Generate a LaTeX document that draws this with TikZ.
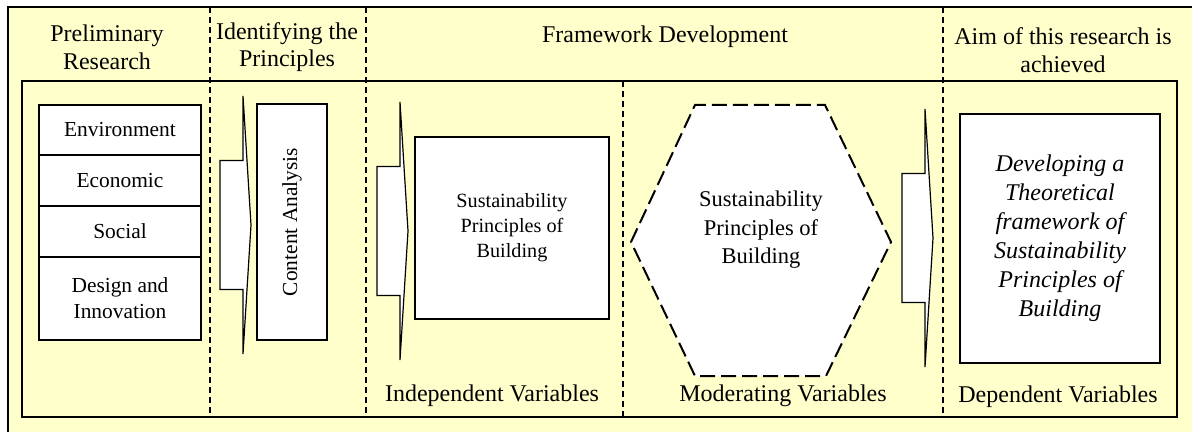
\documentclass[tikz,border=0pt]{standalone}
\usepackage{fontspec}
\setmainfont{Liberation Serif}
\usetikzlibrary{positioning}

\definecolor{paleyellow}{RGB}{255,255,204}

\tikzset{
  cell/.style={draw, line width=0.6pt, fill=white, outer sep=0pt, minimum width=81pt,
    align=center, font=\fontsize{10.7}{13}\selectfont},
  heading/.style={align=center, font=\fontsize{12}{13.8}\selectfont},
  phaseline/.style={dash pattern=on 3pt off 2pt, line width=0.6pt},
  flowarrow/.pic={
    \draw[line width=0.6pt, fill=white] (0,-64.5) -- (23,-64.5) -- (23,-129) -- (31,0)
      -- (23,129) -- (23,64.5) -- (0,64.5) -- cycle;
  }
}

\begin{document}
\begin{tikzpicture}[x=0.5pt, y=-0.5pt]
  \useasboundingbox (0,0) rectangle (1192,432);
  \fill[white] (0,0) rectangle (1192,432);
  \draw[line width=1pt, fill=paleyellow] (8,7) rectangle (1210,450);
  \draw[line width=0.8pt] (22,81) rectangle (1177,417);

  % phase borders
  \draw[phaseline] (210,7) -- (210,417);
  \draw[phaseline] (366,7) -- (366,417);
  \draw[phaseline] (943,7) -- (943,417);
  \draw[phaseline] (623,81) -- (623,417);

  % phase titles
  \node[heading] (prelim) at (107,47) {Preliminary\\Research};
  \node[heading] (ident) at (287,47) {Identifying the\\Principles};
  \node[heading] (frame) at (665,37) {Framework Development};
  \node[heading] (aim) at (1063,50) {Aim of this research is\\achieved};

  % pillars
  \node[cell, minimum height=25pt] (env) at (120,130) {Environment};
  \node[cell, minimum height=25.5pt, below=0pt of env] (eco) {Economic};
  \node[cell, minimum height=25.5pt, below=0pt of eco] (soc) {Social};
  \node[cell, minimum height=41.5pt, below=0pt of soc] (des) {Design and\\Innovation};

  \pic at (220,225) {flowarrow};
  \node[cell, rotate=90, minimum width=118pt, minimum height=35pt] (content) at (292,222) {Content Analysis};

  \pic at (377,231) {flowarrow};
  \node[cell, minimum width=97pt, minimum height=91pt, font=\fontsize{10.1}{12.5}\selectfont]
    (indep) at (512,228) {Sustainability\\Principles of\\Building};

  % moderating hexagon
  \draw[line width=1pt, dash pattern=on 7.5pt off 3pt, fill=white]
    (631,242) -- (695,105) -- (825,105) -- (891,242) -- (826,376) -- (695,376) -- cycle;
  \node[align=center, font=\fontsize{11.25}{14.2}\selectfont] (moder) at (761,230)
    {Sustainability\\Principles of\\Building};

  \pic at (902,238) {flowarrow};
  \node[cell, minimum width=100pt, minimum height=124.5pt, font=\fontsize{12}{14.5}\selectfont\itshape]
    (dep) at (1060,238.5) {Developing a\\Theoretical\\framework of\\Sustainability\\Principles of\\Building};

  % variable types
  \node[heading] (ivar) at (492,396) {Independent Variables};
  \node[heading] (mvar) at (783,396) {Moderating Variables};
  \node[heading] (dvar) at (1058,397) {Dependent Variables};
\end{tikzpicture}
\end{document}
